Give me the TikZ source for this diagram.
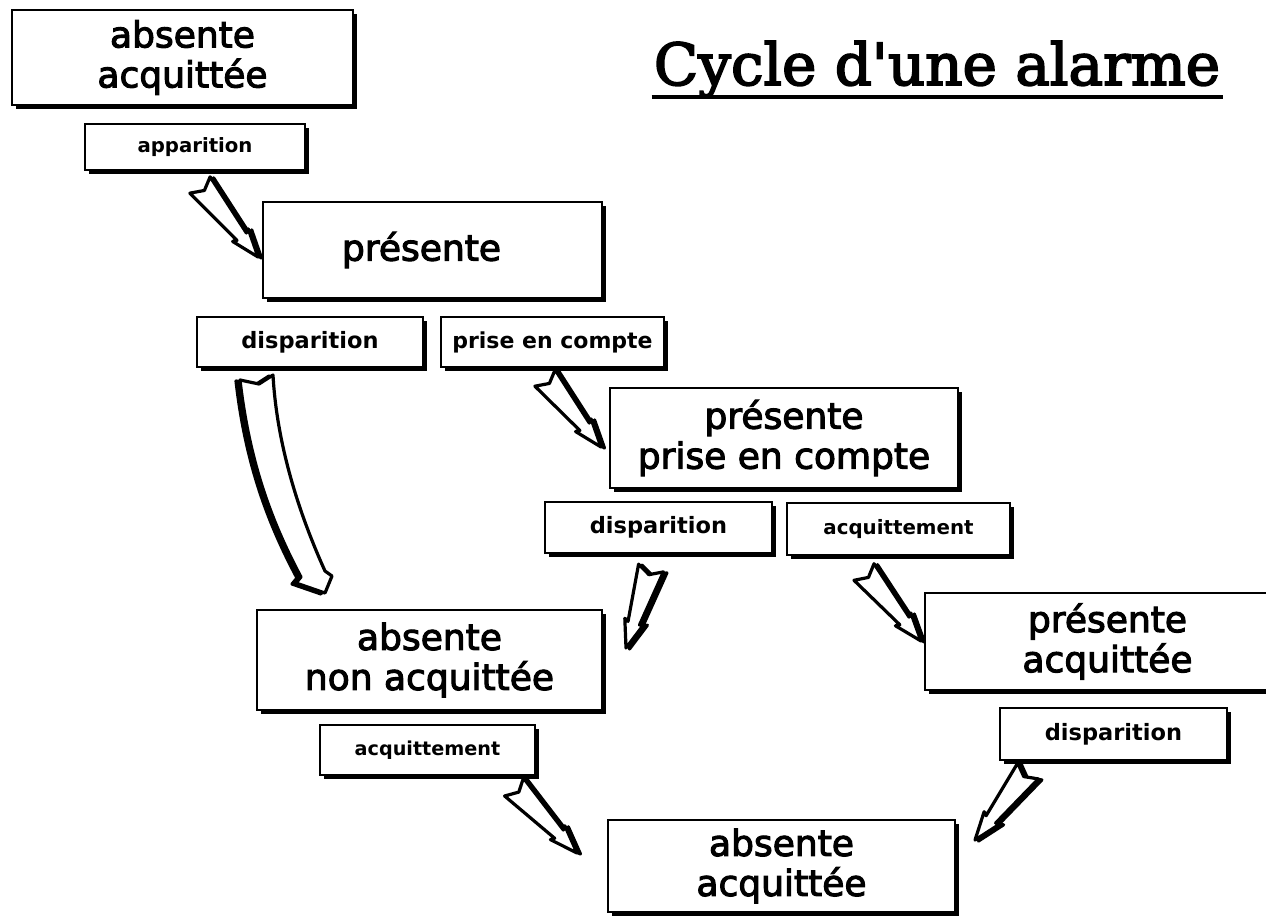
\documentclass[tikz,border=0pt]{standalone}
\usepackage{fontspec}
\setmainfont{DejaVu Sans}[FakeBold=3]
\newfontfamily\labfont{DejaVu Sans}
\newfontfamily\titlefont{DejaVu Serif}[Ligatures=TeXOff,FakeBold=3]
\usetikzlibrary{calc,shadows}
\tikzset{
  boxshadow/.style={general shadow={fill=black, shadow xshift=3.5pt, shadow yshift=-3.5pt}},
  bigbox/.style={draw=black, line width=2.5pt, fill=white, inner sep=0pt, align=center,
    boxshadow, font=\fontsize{36}{40}\selectfont},
  labbox/.style={draw=black, line width=2.5pt, fill=white, inner sep=0pt, align=center,
    boxshadow, font=\labfont\bfseries\fontsize{#1}{#1}\selectfont},
  arrbody/.style={fill=white, draw=black, line width=3.2pt, line join=round},
  arrshadow/.style={fill=black, draw=black, line width=3.2pt, line join=round}
}
\def\arshape{(0pt,13pt) -- ({\ArLen-26pt},6pt) -- ({\ArLen-28pt},10pt) -- (\ArLen,0pt) -- ({\ArLen-28pt},-10pt) -- ({\ArLen-26pt},-6pt) -- (0pt,-13pt) -- (7pt,0pt) -- cycle}
\newcommand{\blockarr}[2]{%
  \path let \p1=(#1), \p2=(#2), \n1={atan2(\y2-\y1,\x2-\x1)}, \n2={veclen(\x2-\x1,\y2-\y1)} in
    \pgfextra{\xdef\ArAng{\n1}\xdef\ArLen{\n2}\xdef\ArX{\x1}\xdef\ArY{\y1}};
  \begin{scope}[shift={(\ArX,\ArY)}, xshift=3.5pt, yshift=-1pt, rotate=\ArAng]
    \path[arrshadow] \arshape;
  \end{scope}
  \begin{scope}[shift={(\ArX,\ArY)}, rotate=\ArAng]
    \path[arrbody] \arshape;
  \end{scope}}
\def\curvshape{($(a3s)+(-17,1)$) .. controls ($(a3s)+(-8,80)$) and ($(a3s)+(13,140)$) .. ($(a3s)+(44,198)$)
  -- ($(a3e)+(-29,-10)$) -- (a3e) -- ($(a3e)+(7,-17)$) -- ($(a3e)+(0,-22)$)
  .. controls ($(a3s)+(44,139)$) and ($(a3s)+(20,69)$) .. ($(a3s)+(16,-4)$)
  -- ($(a3s)+(2,5)$) -- cycle}
\begin{document}
\begin{tikzpicture}[x=1pt,y=-1pt]
\useasboundingbox (0,0) rectangle (1266,919);
\clip (0,0) rectangle (1266,919);
\fill[white] (0,0) rectangle (1266,919);

% title
\node[font=\titlefont\fontsize{58}{60}\selectfont, anchor=base, inner sep=0pt] (title) at (937,85) {Cycle d'une alarme};
\draw[line width=3.5pt] ([yshift=-12pt,xshift=-2pt]title.base west) -- ([yshift=-12pt,xshift=3pt]title.base east);

% states
\node[bigbox, minimum width=341pt, minimum height=95pt] (b1) at (182.5,57.5) {absente\\acquittée};
\node[bigbox, minimum width=339pt, minimum height=96pt] (b2) at (432.5,250) {présente\hspace*{22pt}};
\node[bigbox, minimum width=348pt, minimum height=100pt] (b3) at (784,438) {présente\\prise en compte};
\node[bigbox, minimum width=345pt, minimum height=100pt] (b4) at (429.5,660) {absente\\non acquittée};
\node[bigbox, minimum width=365pt, minimum height=97pt] (b5) at (1107.5,641.5) {présente\\acquittée};
\node[bigbox, minimum width=347pt, minimum height=92pt] (b6) at (781.5,866) {absente\\acquittée};

% events
\node[labbox=19.7, minimum width=220pt, minimum height=46pt] (l1) at (195,147) {apparition};
\node[labbox=22.5, minimum width=226pt, minimum height=50pt] (l2) at (310,342) {disparition};
\node[labbox=22, minimum width=223pt, minimum height=50pt] (l3) at (552.5,342) {prise en compte};
\node[labbox=22.5, minimum width=227pt, minimum height=51pt] (l4) at (658.5,527.5) {disparition};
\node[labbox=19.8, minimum width=223pt, minimum height=52pt] (l5) at (898.5,529) {acquittement};
\node[labbox=22.5, minimum width=227pt, minimum height=52pt] (l6) at (1113.5,734) {disparition};
\node[labbox=19.2, minimum width=215pt, minimum height=50pt] (l7) at (427.5,750) {acquittement};

% arrow ends
\coordinate (a1s) at (200,185);  \coordinate (a1e) at (258,257);
\coordinate (a2s) at (545,378);  \coordinate (a2e) at (601,447);
\coordinate (a3s) at (257,379);  \coordinate (a3e) at (325,593);
\coordinate (a4s) at (651,568);  \coordinate (a4e) at (626,648);
\coordinate (a5s) at (864,572);  \coordinate (a5e) at (921,641);
\coordinate (a6s) at (1028,771); \coordinate (a6e) at (975,840);
\coordinate (a7s) at (514,787);  \coordinate (a7e) at (577,853);

\blockarr{a1s}{a1e}
\blockarr{a2s}{a2e}
\blockarr{a4s}{a4e}
\blockarr{a5s}{a5e}
\blockarr{a6s}{a6e}
\blockarr{a7s}{a7e}

% curved arrow disparition -> absente non acquittee
\path[arrshadow, transform canvas={xshift=-4pt, yshift=-1pt}] \curvshape;
\path[arrbody] \curvshape;
\end{tikzpicture}
\end{document}
